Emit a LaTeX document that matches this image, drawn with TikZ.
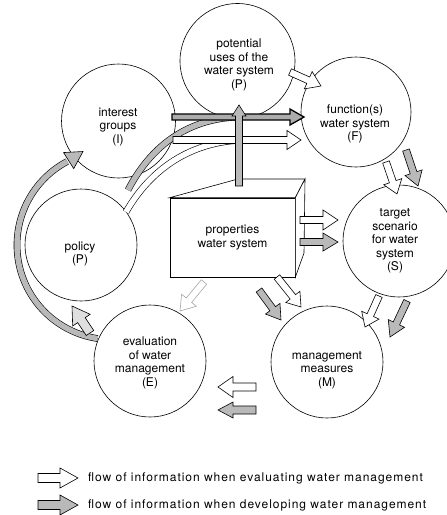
\documentclass[tikz,border=0pt]{standalone}
\usepackage{fontspec}
\setmainfont{TeX Gyre Heros}
\newfontfamily\legfont[LetterSpace=8]{TeX Gyre Heros}
\usetikzlibrary{calc}
\newcommand{\barrow}[6]{%
  \coordinate (hb) at ($(#3)!#6!(#2)$);
  \filldraw[#1] ($(#2)!#4!90:(#3)$) -- ($(hb)!#4!90:(#3)$) -- ($(hb)!#5!90:(#3)$) -- (#3)
    -- ($(hb)!#5!-90:(#3)$) -- ($(hb)!#4!-90:(#3)$) -- ($(#2)!#4!-90:(#3)$) -- cycle;}
\newcommand{\bhead}[5]{%
  \coordinate (hb) at ($(#3)!#5!(#2)$);
  \filldraw[#1] ($(hb)!#4!90:(#3)$) -- (#3) -- ($(hb)!#4!-90:(#3)$) -- cycle;}
\begin{document}
\begin{tikzpicture}[x=1pt,y=-1pt,
  circ/.style={circle, draw, line width=0.6pt, inner sep=0pt, minimum size=112pt},
  txt/.style={align=center, font=\fontsize{12}{13.5}\selectfont, inner sep=0pt},
  wa/.style={fill=white, draw=black, line width=0.6pt, line join=miter},
  la/.style={fill=white, draw=gray!70, line width=0.6pt},
  ga/.style={fill=gray!55, draw=black, line width=0.6pt},
  da/.style={fill=gray!65, draw=black, line width=1.3pt},
  pa/.style={fill=gray!25, draw=black, line width=0.6pt},
  gcurve/.style={draw=black, line width=0.6pt, double=gray!55, double distance=5.5pt},
  wcurve/.style={draw=black, line width=0.6pt, double=white, double distance=5.5pt}]
\useasboundingbox (0,0) rectangle (447,515);
% circles
\node[circ, minimum size=115pt] (P) at (237.5,61) {};
\node[circ, minimum size=114pt] (I) at (118.5,121) {};
\node[circ, minimum size=110pt] (F) at (356,112) {};
\node[circ] (S) at (399,241) {};
\node[circ] (M) at (327,362) {};
\node[circ] (E) at (150,361) {};
\node[circ] (Po) at (81,245) {};
\node[txt] (Pt) at (239,65) {potential\\uses of the\\water system\\(P)};
\node[txt] (It) at (118,127) {interest\\groups\\(I)};
\node[txt] (Ft) at (355,124) {function(s)\\water system\\(F)};
\node[txt] (St) at (395,241) {target\\scenario\\for water\\system\\(S)};
\node[txt] (Mt) at (327,370) {management\\measures\\(M)};
\node[txt] (Et) at (150,363) {evaluation\\of water\\management\\(E)};
\node[txt] (Pot) at (80,254) {policy\\(P)};
% curved arrows from policy
\coordinate (c1s) at (128,190); \coordinate (c1e) at (238,117);
\coordinate (c2s) at (126,212); \coordinate (c2e) at (245,140);
\draw[gcurve] (c1s) .. controls (150,148) and (185,119) .. (c1e);
\draw[wcurve] (c2s) .. controls (150,170) and (190,141) .. (c2e);
% big arc E -> I
\draw[gcurve] plot[smooth, domain=98.5:242, samples=40] ({111.6+94.6*cos(\x)},{245+94.6*sin(\x)});
\coordinate (ae) at (67.2,161.5);
\coordinate (at) at (83,151.5);
\bhead{ga}{ae}{at}{9.5pt}{17pt}
% box
\node[draw, fill=white, line width=0.6pt, minimum width=125pt, minimum height=79pt, txt] (box) at (232.5,237.5) {properties\\water system};
\coordinate (bl) at (238,179); \coordinate (br) at (305,179); \coordinate (brb) at (304,253);
\filldraw[fill=white, line width=0.6pt] (box.north west) -- (bl) -- (br) -- (box.north east) -- cycle;
\filldraw[fill=white, line width=0.6pt] (box.north east) -- (br) -- (brb) -- (box.south east) -- cycle;
% straight arrows
\coordinate (pf1) at (290,72); \coordinate (pf2) at (321,86);
\coordinate (if1) at (172,117); \coordinate (if2) at (304,117);
\coordinate (iw1) at (173,140); \coordinate (iw2) at (301,140);
\coordinate (bp1) at (239,186); \coordinate (bp2) at (239,105);
\coordinate (fs1) at (386,162); \coordinate (fs2) at (397,194);
\coordinate (fg1) at (406,150); \coordinate (fg2) at (418,186);
\coordinate (bs1) at (300,220); \coordinate (bs2) at (338,220);
\coordinate (bg1) at (300,242); \coordinate (bg2) at (338,242);
\coordinate (sm1) at (379,296); \coordinate (sm2) at (365,327);
\coordinate (sg1) at (407,301); \coordinate (sg2) at (390,337);
\coordinate (bm1) at (277,277); \coordinate (bm2) at (301,307);
\coordinate (bn1) at (259,290); \coordinate (bn2) at (281,320);
\coordinate (be1) at (204,282); \coordinate (be2) at (180,311);
\coordinate (me1) at (256,387); \coordinate (me2) at (218,387);
\coordinate (mg1) at (256,410); \coordinate (mg2) at (218,410);
\coordinate (ep1) at (90,333); \coordinate (ep2) at (72,306);
\barrow{wa}{pf1}{pf2}{3.5pt}{9.5pt}{14pt}
\barrow{wa}{iw1}{iw2}{3.5pt}{9.5pt}{14pt}
\barrow{da}{if1}{if2}{3pt}{8pt}{14pt}
\barrow{ga}{bp1}{bp2}{3.5pt}{7pt}{11pt}
\barrow{wa}{fs1}{fs2}{3.5pt}{9.5pt}{13pt}
\barrow{ga}{fg1}{fg2}{3.5pt}{9pt}{14pt}
\barrow{wa}{bs1}{bs2}{3.5pt}{10pt}{15pt}
\barrow{ga}{bg1}{bg2}{3.5pt}{9pt}{15pt}
\barrow{wa}{sm1}{sm2}{3.5pt}{9.5pt}{13pt}
\barrow{ga}{sg1}{sg2}{3.5pt}{9pt}{15pt}
\barrow{wa}{bm1}{bm2}{3.5pt}{9pt}{13pt}
\barrow{ga}{bn1}{bn2}{3.5pt}{9pt}{14pt}
\barrow{la}{be1}{be2}{3.5pt}{9.5pt}{14pt}
\barrow{wa}{me1}{me2}{4pt}{10.5pt}{15pt}
\barrow{ga}{mg1}{mg2}{4pt}{8pt}{15pt}
\barrow{pa}{ep1}{ep2}{4.5pt}{10.5pt}{17pt}
% legend
\coordinate (l1a) at (38,478); \coordinate (l1b) at (78,478);
\coordinate (l2a) at (38,505); \coordinate (l2b) at (78,505);
\barrow{wa}{l1a}{l1b}{4.5pt}{10pt}{18pt}
\barrow{ga}{l2a}{l2b}{4.5pt}{10pt}{18pt}
\node[anchor=west, inner sep=0pt, font=\fontsize{12}{13.5}\legfont] (lt1) at (88,478) {flow of information when evaluating water management};
\node[anchor=west, inner sep=0pt, font=\fontsize{12}{13.5}\legfont] (lt2) at (88,505) {flow of information when developing water management};
\end{tikzpicture}
\end{document}
